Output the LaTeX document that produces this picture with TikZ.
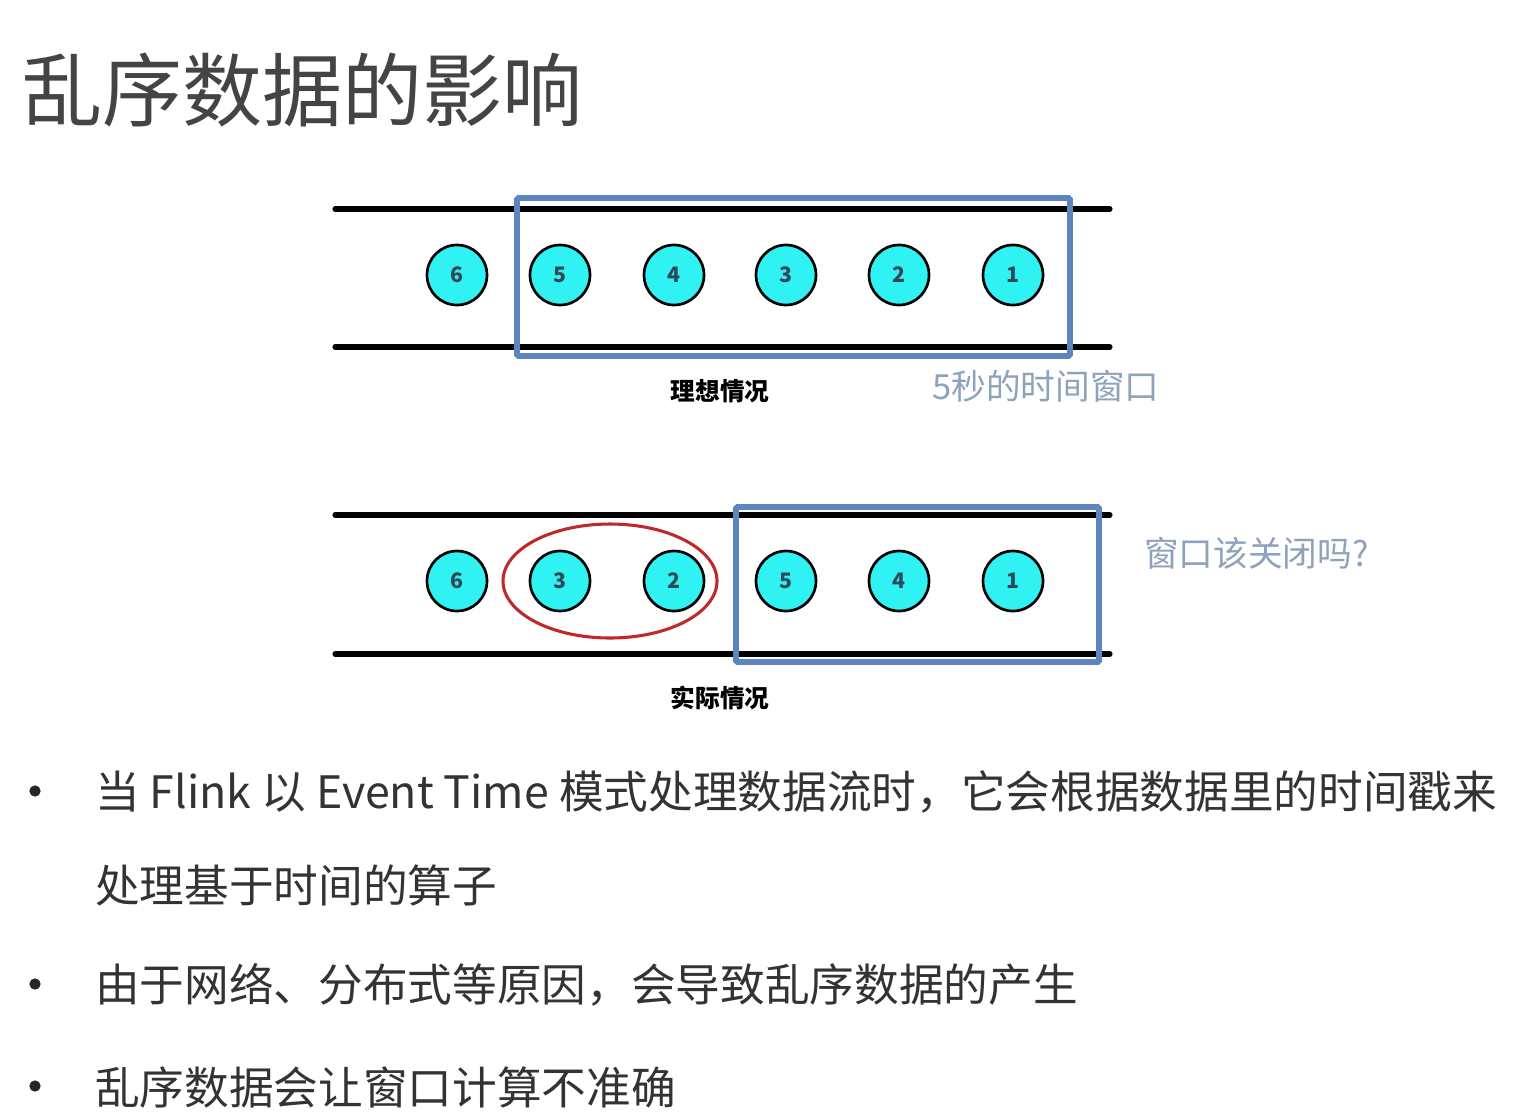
\documentclass[tikz,border=0pt]{standalone}
\usepackage{fontspec}
\setmainfont{Noto Sans CJK SC}
\definecolor{titlegray}{HTML}{444444}
\definecolor{textgray}{HTML}{333333}
\definecolor{winblue}{HTML}{5E86BE}
\definecolor{notegray}{HTML}{8FA2BC}
\definecolor{cyanfill}{HTML}{30F2F2}
\definecolor{numgray}{HTML}{2E4A5A}
\definecolor{ringred}{HTML}{C0282A}
\tikzset{
  rail/.style={line width=3.8pt, black, line cap=round},
  winbox/.style={draw=winblue, line width=4.3pt, rounded corners=1pt},
  ev/.style={circle, draw=black, line width=2pt, fill=cyanfill, minimum size=45pt, inner sep=0pt, font=\fontsize{16}{16}\selectfont\bfseries, text=numgray},
  caplabel/.style={font=\fontsize{18.5}{20}\selectfont\bfseries, text=black},
  note/.style={font=\fontsize{26}{28}\selectfont, text=notegray, anchor=west, inner sep=0pt},
  bullet/.style={font=\fontsize{33.5}{36}\selectfont, text=textgray, anchor=west, inner sep=0pt},
  dot/.style={circle, fill=black!85, inner sep=0pt, minimum size=8.5pt}
}
\begin{document}
\begin{tikzpicture}[x=0.75pt,y=-0.75pt]
\useasboundingbox[fill=white] (0,0) rectangle (1530,1118);
% title
\node[anchor=west, inner sep=0pt, font=\fontsize{60}{63}\selectfont, text=titlegray] (title) at (22,90) {乱序数据的影响};
% top stream
\coordinate (t1l) at (335,209); \coordinate (t1r) at (1110,209);
\coordinate (t2l) at (335,347); \coordinate (t2r) at (1110,347);
\draw[rail] (t1l) -- (t1r);
\draw[rail] (t2l) -- (t2r);
\node[ev] (a6) at (457,275) {6};
\node[ev] (a5) at (560,275) {5};
\node[ev] (a4) at (674,275) {4};
\node[ev] (a3) at (786,275) {3};
\node[ev] (a2) at (899,275) {2};
\node[ev] (a1) at (1013,275) {1};
\draw[winbox] (517,198) rectangle (1070,356);
\node[caplabel] (cap1) at (720,391) {理想情况};
\node[note] (note1) at (932,386) {5秒的时间窗口};
% bottom stream
\coordinate (b1l) at (335,515); \coordinate (b1r) at (1110,515);
\coordinate (b2l) at (335,654); \coordinate (b2r) at (1110,654);
\draw[rail] (b1l) -- (b1r);
\draw[rail] (b2l) -- (b2r);
\node[ev] (b6) at (457,581) {6};
\node[ev] (b3) at (560,581) {3};
\node[ev] (b2) at (674,581) {2};
\node[ev] (b5) at (786,581) {5};
\node[ev] (b4) at (899,581) {4};
\node[ev] (b1) at (1013,581) {1};
\draw[ringred, line width=2.3pt] (610,581) ellipse [x radius=107, y radius=57];
\draw[winbox] (736,507) rectangle (1099,662);
\node[caplabel] (cap2) at (720,698) {实际情况};
\node[note] (note2) at (1144,553) {窗口该关闭吗?};
% bullets
\node[dot] (d1) at (35,791) {};
\node[bullet] (l1) at (95,792) {当 Flink 以 Event Time 模式处理数据流时，它会根据数据里的时间戳来};
\node[bullet] (l1b) at (95,885) {处理基于时间的算子};
\node[dot] (d2) at (35,984) {};
\node[bullet] (l2) at (95,985) {由于网络、分布式等原因，会导致乱序数据的产生};
\node[dot] (d3) at (35,1086) {};
\node[bullet] (l3) at (95,1087) {乱序数据会让窗口计算不准确};
\end{tikzpicture}
\end{document}
